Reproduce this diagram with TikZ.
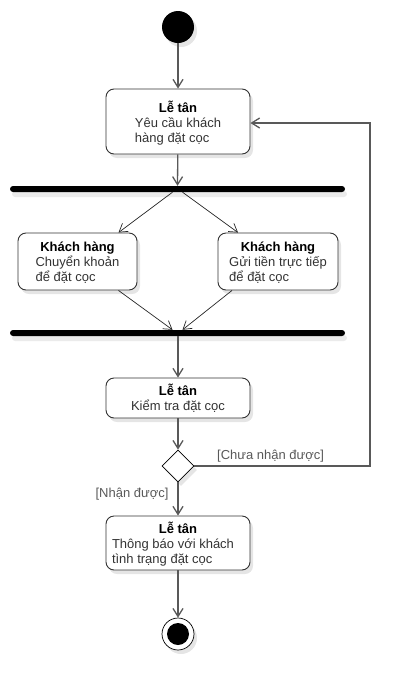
\documentclass[tikz,border=0pt]{standalone}
\usepackage{fontspec}
\setmainfont{Liberation Sans}
\usetikzlibrary{arrows.meta,shapes.geometric,shadows,calc}
\definecolor{linegray}{HTML}{595959}
\definecolor{txtgray}{HTML}{333333}
\tikzset{
  shade1/.style={drop shadow={shadow xshift=3pt,shadow yshift=-4pt,fill=black!10,opacity=1}},
  actbox/.style={draw=txtgray,line width=0.9pt,rounded corners=8pt,fill=white,shade1,
    align=center,inner sep=0pt,text=txtgray,font=\fontsize{13}{15}\selectfont},
  forkbar/.style={fill=black,draw=none,rounded corners=3pt,minimum height=6pt,inner sep=0pt,
    drop shadow={shadow xshift=2pt,shadow yshift=-5pt,fill=black!8,opacity=1}},
  flow/.style={draw=linegray,line width=1.3pt,-{Straight Barb[length=8pt,width=10pt]}},
  thinflow/.style={draw=black!85,line width=0.7pt,-{Straight Barb[length=8pt,width=10pt]}},
  guard/.style={text=linegray,font=\fontsize{13}{15}\selectfont,inner sep=0pt}
}
\newcommand{\blk}[1]{\begin{tabular}[t]{@{}l@{}}#1\end{tabular}}
\begin{document}
\begin{tikzpicture}[x=1pt,y=-1pt]
\useasboundingbox (0,0) rectangle (411,691);
% start
\node[circle,fill=black,minimum size=32pt,inner sep=0pt,shade1] (start) at (178,27) {};
% box 1
\node[actbox,minimum width=144pt,minimum height=65pt] (b1) at (178,121.5)
  {{\color{black}\bfseries Lễ tân}\\\blk{Yêu cầu khách\\hàng đặt cọc}\\[-6pt]};
% bars
\node[forkbar,minimum width=335pt] (bar1) at (177.5,189) {};
\node[forkbar,minimum width=335pt] (bar2) at (177.5,333) {};
% customer boxes
\node[actbox,minimum width=119pt,minimum height=57pt] (b2) at (77.5,261.5)
  {{\color{black}\bfseries Khách hàng}\\\blk{Chuyển khoản\\để đặt cọc}\\[-6pt]};
\node[actbox,minimum width=120pt,minimum height=57pt] (b3) at (278,261.5)
  {{\color{black}\bfseries Khách hàng}\\\blk{Gửi tiền trực tiếp\\để đặt cọc}\\[-6pt]};
% check box
\node[actbox,minimum width=144pt,minimum height=40pt] (b4) at (178,398)
  {{\color{black}\bfseries Lễ tân}\\Kiểm tra đặt cọc};
% decision
\node[diamond,draw=black,line width=0.7pt,fill=white,minimum width=32pt,minimum height=32pt,
  inner sep=0pt,shade1] (dec) at (178,466) {};
% notify box
\node[actbox,minimum width=144pt,minimum height=54pt] (b5) at (178,543)
  {{\color{black}\bfseries Lễ tân}\\\hspace*{-10pt}\blk{Thông báo với khách\\tình trạng đặt cọc}\\[-6pt]};
% end
\node[circle,draw=black,line width=0.7pt,fill=white,minimum size=32pt,inner sep=0pt,shade1] (endo) at (178,634) {};
\node[circle,fill=black,minimum size=22pt,inner sep=0pt] (endi) at (endo) {};
% connectors
\draw[flow] (start) -- (b1);
\draw[flow] (b1) -- (bar1);
\draw[thinflow] ($(bar1.south)+(-5,0)$) -- ($(b2.north)+(41,0)$);
\draw[thinflow] ($(bar1.south)+(5,0)$) -- ($(b3.north)+(-40,0)$);
\draw[thinflow] ($(b2.south)+(41,0)$) -- ($(bar2.north)+(-5,0)$);
\draw[thinflow] ($(b3.south)+(-46,0)$) -- ($(bar2.north)+(5,0)$);
\draw[flow] (bar2.south -| b4.north) -- (b4.north);
\draw[flow] (b4) -- (dec);
\draw[flow] (dec) -- (b5);
\draw[flow] (b5) -- (endo);
\coordinate (loopc) at (370,466);
\draw[flow] (dec.east) -- (loopc) |- ($(b1.east)+(0,1.5)$);
% guards
\node[guard,anchor=south west] (g1) at (217,462) {[Chưa nhận được]};
\node[guard] (g2) at (132,494) {[Nhận được]};
\end{tikzpicture}
\end{document}
